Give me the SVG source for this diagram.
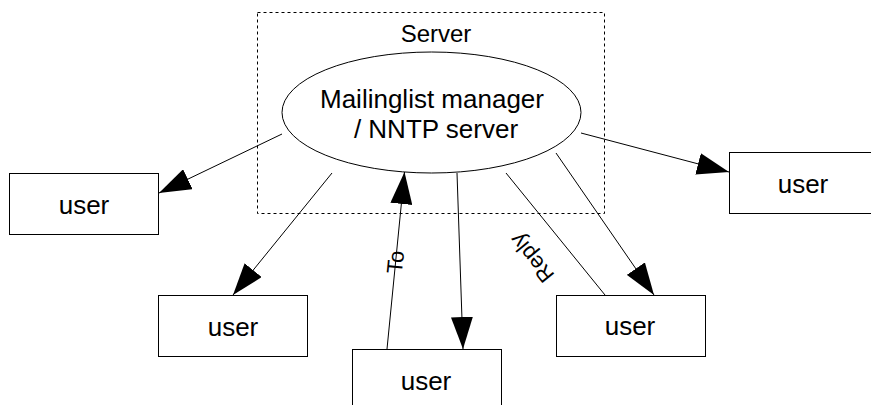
<svg xmlns="http://www.w3.org/2000/svg" width="871" height="405" viewBox="0 0 871 405">
  <defs>
    <style>
      .box{fill:#fff;stroke:#000;stroke-width:1}
      .frame{fill:none;stroke:#000;stroke-width:1;stroke-dasharray:3 3}
      .txt{font-family:"Liberation Sans",Arial,sans-serif;font-size:26px;fill:#000;text-anchor:middle}
      .title{font-family:"Liberation Sans",Arial,sans-serif;font-size:24px;fill:#000;text-anchor:middle}
      .lab{font-family:"Liberation Sans",Arial,sans-serif;font-size:22px;fill:#000;text-anchor:middle}
      .edge{stroke:#000;stroke-width:1;fill:none}
      .arrow{marker-end:url(#head)}
    </style>
    <marker id="head" markerUnits="userSpaceOnUse" markerWidth="32" markerHeight="22" refX="32" refY="11" orient="auto">
      <path d="M0,0 L32,11 L0,22 z" fill="#000"/>
    </marker>
  </defs>

  <rect width="871" height="405" fill="#fff"/>

  <!-- server boundary -->
  <g id="server">
    <rect class="frame" x="257.5" y="12.5" width="347" height="201"/>
    <text class="title" x="436" y="42">Server</text>
  </g>

  <!-- connectors -->
  <g id="connectors">
    <line class="edge arrow" x1="282" y1="134" x2="159" y2="193"/>
    <line class="edge arrow" x1="332" y1="173" x2="233" y2="295"/>
    <line class="edge arrow" x1="387" y1="349" x2="404.5" y2="172"/>
    <line class="edge arrow" x1="457" y1="173" x2="463" y2="349"/>
    <line class="edge" x1="506" y1="173" x2="605" y2="295"/>
    <line class="edge arrow" x1="556" y1="153" x2="654" y2="295"/>
    <line class="edge arrow" x1="581" y1="133" x2="729" y2="172"/>
    <text class="lab" transform="translate(395,262) rotate(-84.5)" y="8">To</text>
    <text class="lab" transform="translate(533,257) rotate(-129)" y="6">Reply</text>
  </g>

  <g id="manager">
    <ellipse class="box" cx="431.5" cy="112.5" rx="149.5" ry="60.5"/>
    <text class="txt" x="432" y="108">Mailinglist manager</text>
    <text class="txt" x="436" y="138">/ NNTP server</text>
  </g>

  <g id="user-left">
    <rect class="box" x="9.5" y="173.5" width="149" height="61"/>
    <text class="txt" x="84" y="214">user</text>
  </g>
  <g id="user-lower-left">
    <rect class="box" x="158.5" y="295.5" width="149" height="61"/>
    <text class="txt" x="233" y="336">user</text>
  </g>
  <g id="user-bottom">
    <rect class="box" x="352.5" y="349.5" width="149" height="61"/>
    <text class="txt" x="426" y="390">user</text>
  </g>
  <g id="user-lower-right">
    <rect class="box" x="556.5" y="295.5" width="149" height="61"/>
    <text class="txt" x="630" y="335">user</text>
  </g>
  <g id="user-right">
    <rect class="box" x="729.5" y="152.5" width="149" height="61"/>
    <text class="txt" x="803" y="193">user</text>
  </g>
</svg>
